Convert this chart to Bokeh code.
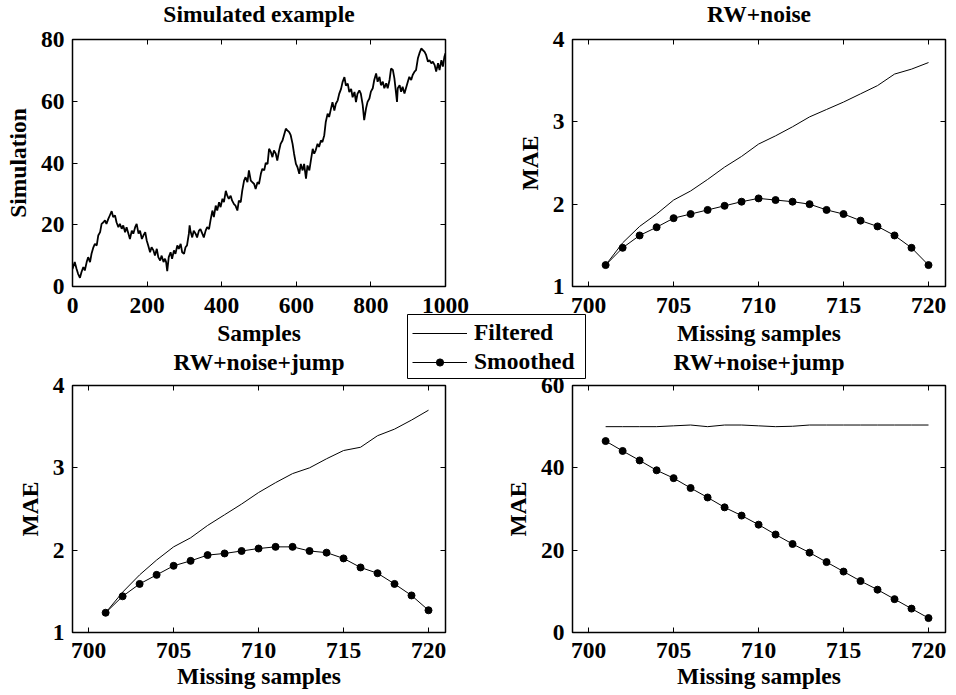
from bokeh.plotting import figure
from bokeh.models import Range1d, LinearAxis, FixedTicker, CustomJSTickFormatter, Legend, LegendItem
from bokeh.layouts import column, row
from bokeh.embed import file_html
from bokeh.resources import INLINE

FONT = "Liberation Serif"
FS = "23.5px"

# ---------------- data ----------------
rw_sample = [0, 6, 11, 15, 20, 24, 29, 33, 38, 42, 47, 51, 56, 60, 65, 69, 74, 78, 83, 87,
             91, 96, 100, 105, 109, 114, 118, 123, 127, 132, 136, 141, 145, 150, 154, 159, 163, 168, 172, 177,
             181, 186, 190, 195, 199, 203, 208, 212, 217, 221, 226, 230, 235, 239, 244, 248, 251, 254, 258, 263,
             267, 272, 276, 281, 285, 290, 294, 299, 303, 307, 312, 314, 316, 321, 325, 330, 334, 339, 343, 348,
             352, 357, 361, 366, 370, 375, 379, 384, 388, 393, 397, 402, 406, 411, 415, 419, 424, 428, 433, 437,
             442, 446, 451, 455, 460, 464, 469, 473, 478, 482, 487, 491, 496, 500, 505, 509, 514, 518, 523, 527,
             532, 536, 540, 545, 549, 554, 558, 563, 567, 572, 576, 581, 585, 590, 594, 599, 603, 608, 612, 617,
             621, 626, 630, 635, 639, 644, 648, 652, 657, 661, 666, 670, 675, 679, 684, 688, 693, 697, 702, 706,
             711, 715, 720, 724, 729, 733, 738, 742, 747, 751, 756, 760, 764, 769, 773, 778, 782, 787, 791, 796,
             800, 805, 809, 814, 818, 823, 827, 832, 836, 841, 845, 850, 854, 859, 863, 868, 870, 872, 877, 881,
             885, 890, 894, 899, 903, 908, 912, 917, 921, 926, 930, 935, 939, 944, 948, 953, 957, 962, 966, 971,
             975, 980, 984, 989, 993, 997, 1000]
rw_value = [5.7, 7.9, 5.7, 4.1, 2.8, 4.6, 6.3, 5.2, 7.9, 9.5, 7.9, 10.6, 12.7, 13.8, 13.3, 16.5, 17.6, 20.3, 20.8, 21.4,
            20.3, 21.9, 23.0, 24.4, 22.5, 23.0, 20.8, 19.2, 20.3, 18.7, 19.8, 17.6, 19.2, 17.1, 15.4, 18.1, 17.1, 19.2, 20.3, 17.1,
            18.1, 15.4, 16.5, 17.6, 14.9, 13.3, 11.1, 12.7, 11.7, 10.0, 12.2, 9.5, 8.4, 10.0, 7.9, 9.0, 7.9, 5.0, 9.5, 11.1,
            9.0, 11.7, 10.6, 13.3, 12.2, 13.8, 11.1, 10.6, 12.7, 13.3, 17.1, 19.8, 18.1, 15.9, 18.1, 17.1, 15.9, 18.1, 18.6, 17.1,
            15.9, 18.1, 19.2, 18.6, 21.4, 24.6, 22.5, 26.2, 24.6, 27.3, 25.7, 28.4, 27.3, 31.0, 29.4, 28.4, 29.4, 27.8, 26.7, 26.2,
            24.6, 27.8, 27.3, 31.0, 34.3, 35.4, 33.8, 37.6, 34.3, 33.8, 33.2, 31.6, 33.8, 33.2, 36.5, 38.1, 37.6, 40.0, 39.7, 44.6,
            43.5, 41.9, 44.1, 43.0, 40.8, 44.1, 46.2, 47.3, 49.0, 51.1, 50.6, 50.0, 49.0, 46.2, 43.0, 39.7, 38.7, 36.5, 39.7, 37.6,
            39.7, 34.9, 39.2, 37.6, 40.8, 44.6, 43.0, 44.1, 46.2, 45.2, 47.3, 46.8, 49.0, 53.3, 56.0, 54.9, 57.6, 59.7, 57.0, 59.2,
            60.3, 62.4, 64.0, 66.2, 67.8, 65.1, 65.7, 63.0, 64.0, 61.3, 63.0, 59.7, 62.4, 63.5, 62.5, 58.8, 53.9, 57.7, 59.8, 60.9,
            63.1, 64.2, 66.9, 69.0, 66.3, 67.9, 65.2, 66.3, 64.2, 65.8, 64.2, 66.9, 70.6, 70.1, 67.4, 62.0, 59.8, 64.2, 65.2, 63.1,
            64.7, 62.5, 64.2, 66.3, 67.9, 66.9, 68.5, 69.6, 70.1, 73.9, 75.5, 77.1, 76.6, 76.0, 75.0, 72.8, 73.3, 72.3, 72.8, 71.7,
            69.6, 72.3, 70.1, 73.3, 71.2, 74.4, 75.5]

missing = [701, 702, 703, 704, 705, 706, 707, 708, 709, 710,
           711, 712, 713, 714, 715, 716, 717, 718, 719, 720]
rw_filtered = [1.26, 1.53, 1.73, 1.88, 2.05, 2.16, 2.30, 2.45, 2.58, 2.73,
               2.83, 2.94, 3.06, 3.15, 3.24, 3.34, 3.44, 3.58, 3.64, 3.72]
rw_smoothed = [1.26, 1.47, 1.62, 1.72, 1.83, 1.88, 1.93, 1.98, 2.03, 2.07,
               2.05, 2.03, 2.00, 1.93, 1.88, 1.80, 1.73, 1.62, 1.47, 1.26]
jump_filtered = [1.24, 1.49, 1.70, 1.88, 2.04, 2.15, 2.30, 2.43, 2.56, 2.70,
                 2.82, 2.93, 3.00, 3.11, 3.21, 3.25, 3.39, 3.47, 3.58, 3.70]
jump_smoothed = [1.24, 1.44, 1.59, 1.70, 1.81, 1.87, 1.94, 1.96, 1.99, 2.02,
                 2.04, 2.04, 1.99, 1.97, 1.90, 1.79, 1.72, 1.59, 1.45, 1.27]
big_filtered = [50.0, 50.0, 50.0, 50.0, 50.2, 50.4, 50.0, 50.4, 50.4, 50.2,
                50.0, 50.1, 50.4, 50.4, 50.4, 50.4, 50.4, 50.4, 50.4, 50.4]
big_smoothed = [46.5, 44.1, 41.8, 39.4, 37.5, 35.1, 32.8, 30.4, 28.4, 26.2,
                23.8, 21.5, 19.4, 17.1, 14.8, 12.5, 10.4, 8.1, 5.8, 3.5]

sim_xticks = [0, 200, 400, 600, 800, 1000]
sim_yticks = [0, 20, 40, 60, 80]
mae_xticks = [700, 705, 710, 715, 720]
mae_yticks = [1, 2, 3, 4]
big_yticks = [0, 20, 40, 60]

titles = ["Simulated example", "RW+noise", "RW+noise+jump", "RW+noise+jump"]
xlabels = ["Samples", "Missing samples", "Missing samples", "Missing samples"]
ylabels = ["Simulation", "MAE", "MAE", "MAE"]
legend_labels = ["Filtered", "Smoothed"]

FRAME_W, FRAME_H = 373, 247
TOP = 56                  # top border of every panel (title lives here)
BOT1, BOT2 = 68, 63       # bottom borders of the two rows
SHIFT1 = 39 - TOP         # row 1 frame top at y=39
SHIFT2 = 385 - TOP - (SHIFT1 + TOP + FRAME_H + BOT1)   # row 2 frame top at y=385


def set_text(ax):
    ax.major_label_text_font = FONT
    ax.major_label_text_font_style = "bold"
    ax.major_label_text_font_size = FS
    ax.major_label_text_color = "black"
    ax.axis_label_text_font = FONT
    ax.axis_label_text_font_style = "bold"
    ax.axis_label_text_font_size = FS
    ax.axis_label_text_color = "black"


def make_fig(w, bl, bottom, tstand, xls, xals, title, xr, yr, xticks, yticks, xlabel, ylabel):
    h = TOP + FRAME_H + bottom
    p = figure(width=w, height=h,
               min_border_left=bl, min_border_right=w - bl - FRAME_W,
               min_border_top=TOP, min_border_bottom=bottom,
               x_range=Range1d(*xr), y_range=Range1d(*yr),
               toolbar_location=None, output_backend="svg", title=title)
    p.title.text_font = FONT
    p.title.text_font_size = FS
    p.title.text_font_style = "bold"
    p.title.text_color = "black"
    p.title.align = "center"
    p.title.standoff = tstand
    p.grid.visible = False
    p.background_fill_color = "white"
    p.border_fill_alpha = 0.0
    p.outline_line_color = "black"
    p.outline_line_width = 1.5
    p.outline_line_alpha = 1.0
    xa = p.xaxis[0]
    ya = p.yaxis[0]
    xa.ticker = FixedTicker(ticks=xticks)
    ya.ticker = FixedTicker(ticks=yticks)
    xa.axis_label = xlabel
    ya.axis_label = ylabel
    for ax in (xa, ya):
        ax.major_tick_in = 5
        ax.major_tick_out = 0
        ax.major_tick_line_color = "black"
        ax.minor_tick_line_color = None
        ax.axis_line_color = None
        set_text(ax)
    xa.major_label_standoff = xls
    xa.axis_label_standoff = xals
    ya.major_label_standoff = 8
    ya.axis_label_standoff = 7
    for loc, ticks in (("above", xticks), ("right", yticks)):
        ax = LinearAxis(ticker=FixedTicker(ticks=ticks),
                        formatter=CustomJSTickFormatter(code="return ''"),
                        major_label_text_font_size="0px", major_label_standoff=0,
                        major_tick_in=5, major_tick_out=0, major_tick_line_color="black",
                        minor_tick_line_color=None, axis_line_color=None)
        p.add_layout(ax, loc)
    return p


MAE_XR = (699.05, 721.0)

tl = make_fig(490, 72, BOT1, 26, 11, 4, titles[0], (0, 1000), (0, 80),
              sim_xticks, sim_yticks, xlabels[0], ylabels[0])
tl.line(rw_sample, rw_value, line_color="black", line_width=1.8)

tr = make_fig(464, 82, BOT1, 26, 11, 4, titles[1], MAE_XR, (1, 4),
              mae_xticks, mae_yticks, xlabels[1], ylabels[1])
tr.line(missing, rw_filtered, line_color="black", line_width=1)
tr.line(missing, rw_smoothed, line_color="black", line_width=1)
tr.scatter(missing, rw_smoothed, size=7, marker="circle", fill_color="black", line_color="black")

bl = make_fig(490, 72, BOT2, 21, 10, 2, titles[2], MAE_XR, (1, 4),
              mae_xticks, mae_yticks, xlabels[2], ylabels[2])
bl.line(missing, jump_filtered, line_color="black", line_width=1)
bl.line(missing, jump_smoothed, line_color="black", line_width=1)
bl.scatter(missing, jump_smoothed, size=7, marker="circle", fill_color="black", line_color="black")

br = make_fig(464, 82, BOT2, 21, 10, 2, titles[3], MAE_XR, (0, 60),
              mae_xticks, big_yticks, xlabels[3], ylabels[3])
br.line(missing, big_filtered, line_color="black", line_width=1)
br.line(missing, big_smoothed, line_color="black", line_width=1)
br.scatter(missing, big_smoothed, size=7, marker="circle", fill_color="black", line_color="black")

# ---------------- shared legend (between the four panels) ----------------
lg = figure(width=180, height=66, min_border_left=1, min_border_right=1,
            min_border_top=1, min_border_bottom=1,
            x_range=Range1d(0, 1), y_range=Range1d(0, 1),
            toolbar_location=None, output_backend="svg",
            styles={"position": "absolute", "left": "406px", "top": "313px"})
lg.axis.visible = False
lg.grid.visible = False
lg.outline_line_color = "black"
lg.outline_line_width = 1
lg.background_fill_color = "white"
lg.border_fill_color = "white"
# proxies drawn from the same series; they fall outside this box's ranges
r_f = lg.line(missing, rw_filtered, line_color="black", line_width=1)
r_s = lg.line(missing, rw_smoothed, line_color="black", line_width=1)
r_m = lg.scatter(missing, rw_smoothed, marker="circle", size=7, fill_color="black", line_color="black")
leg = Legend(items=[LegendItem(label=legend_labels[0], renderers=[r_f]),
                    LegendItem(label=legend_labels[1], renderers=[r_s, r_m])],
             location="top_left", margin=5, padding=6, spacing=2,
             glyph_width=55, glyph_height=18, label_standoff=7,
             border_line_color=None, background_fill_alpha=0.0,
             label_text_font=FONT, label_text_font_size=FS,
             label_text_font_style="bold", label_text_color="black")
lg.add_layout(leg, "center")

row1 = row(tl, tr, styles={"margin-top": f"{SHIFT1}px"})
row2 = row(bl, br, styles={"margin-top": f"{SHIFT2}px"})
page = column(row1, row2, lg)
open("out.html", "w").write(file_html(page, INLINE))
